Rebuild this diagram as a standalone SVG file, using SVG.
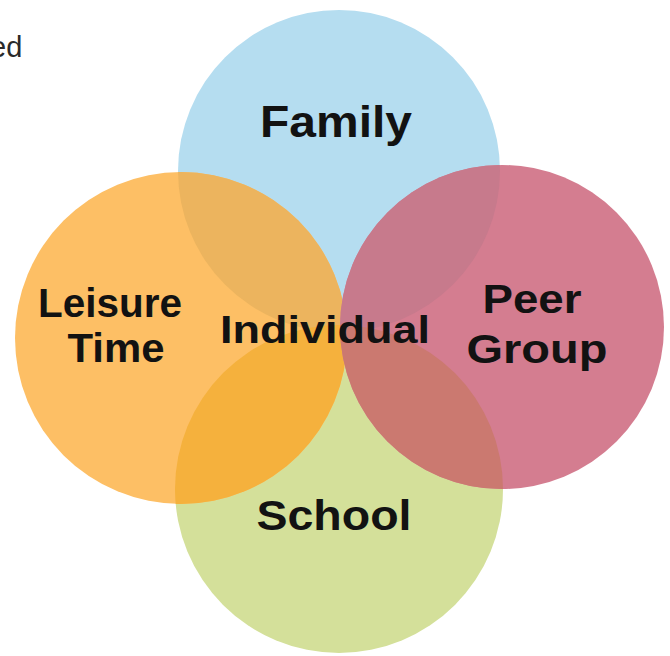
<svg xmlns="http://www.w3.org/2000/svg" width="670" height="656" viewBox="0 0 670 656">
<defs>
<clipPath id="cBlue"><circle cx="339" cy="171" r="161"/></clipPath>
<clipPath id="cGreen"><circle cx="339" cy="489" r="164"/></clipPath>
<style>
.lbl{font-family:"Liberation Sans",Arial,sans-serif;font-weight:bold;fill:#121212;text-anchor:middle}
</style>
</defs>
<rect width="670" height="656" fill="#ffffff"/>
<text x="-10" y="57" font-family="'Liberation Sans',Arial,sans-serif" font-size="29" fill="#2a2a2a">ed</text>
<g id="family"><circle cx="339" cy="171" r="161" fill="#B5DDF0"/></g>
<g id="school"><circle cx="339" cy="489" r="164" fill="#D4E09A"/></g>
<g id="leisure-time">
<circle cx="181" cy="338" r="166" fill="#FDBF65"/>
<circle cx="181" cy="338" r="166" fill="#ECB45E" clip-path="url(#cBlue)"/>
<circle cx="181" cy="338" r="166" fill="#F5B13D" clip-path="url(#cGreen)"/>
</g>
<g id="peer-group">
<circle cx="502" cy="327" r="162" fill="#D47D90"/>
<circle cx="502" cy="327" r="162" fill="#C77A8C" clip-path="url(#cBlue)"/>
<circle cx="502" cy="327" r="162" fill="#CB7970" clip-path="url(#cGreen)"/>
</g>
<g id="labels">
<text class="lbl" x="336" y="137" font-size="44" textLength="152" lengthAdjust="spacingAndGlyphs">Family</text>
<text class="lbl" x="110" y="317" font-size="40" textLength="144" lengthAdjust="spacingAndGlyphs">Leisure</text>
<text class="lbl" x="116" y="362" font-size="40" textLength="97" lengthAdjust="spacingAndGlyphs">Time</text>
<text class="lbl" x="325" y="343" font-size="39" textLength="210" lengthAdjust="spacingAndGlyphs">Individual</text>
<text class="lbl" x="532" y="313" font-size="40" textLength="99" lengthAdjust="spacingAndGlyphs">Peer</text>
<text class="lbl" x="537" y="363" font-size="40" textLength="141" lengthAdjust="spacingAndGlyphs">Group</text>
<text class="lbl" x="334" y="530" font-size="42" textLength="155" lengthAdjust="spacingAndGlyphs">School</text>
</g>
</svg>
